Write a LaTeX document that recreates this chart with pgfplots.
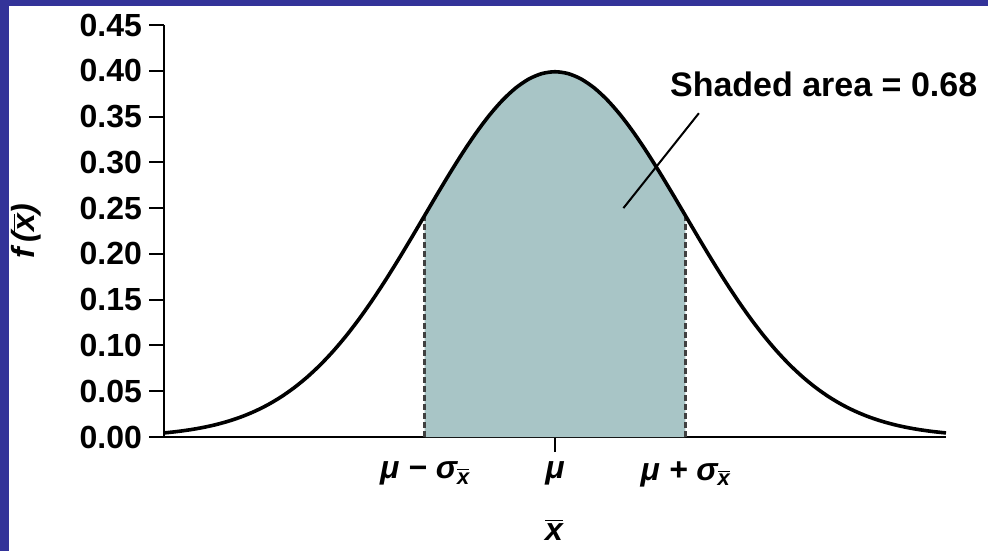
\documentclass[border=0pt]{standalone}
\usepackage{pgfplots}
\pgfplotsset{compat=1.18}
\usepackage{fontspec}
\setmainfont{Liberation Sans}
\definecolor{border}{RGB}{51,51,153}
\definecolor{shade}{RGB}{168,197,198}
\newcommand\xb{\ensuremath{\overline{\mbox{\itshape x}}}}
\newcommand\sub{\raisebox{-0.3ex}{\fontsize{11}{12}\selectfont\xb}}
\begin{document}
\begin{tikzpicture}
\fill[border] (0,0) rectangle (494pt,275.5pt);
\fill[white] (4.5pt,0) rectangle (494pt,272.5pt);
\useasboundingbox (0,0) rectangle (494pt,275.5pt);
\begin{axis}[
  at={(82pt,57pt)}, anchor=south west,
  scale only axis, width=391pt, height=206pt,
  xmin=-3, xmax=3, ymin=0, ymax=0.45,
  axis lines=left, axis line style={line width=1pt, -},
  ytick={0,0.05,...,0.45},
  yticklabel style={/pgf/number format/fixed, /pgf/number format/fixed zerofill, /pgf/number format/precision=2},
  /pgf/number format/assume math mode=true,
  tick label style={font=\fontsize{16}{19}\selectfont\bfseries},
  xticklabel style={yshift=-1.5pt},
  tick align=outside, major tick length=7.5pt,
  tick style={line width=1pt, black},
  xtick={0}, xticklabels={\itshape μ},
  extra x ticks={-1,1},
  extra x tick labels={{\itshape μ − σ\sub},{\itshape μ + σ\sub}},
  extra x tick style={tick style={draw=none}},
  clip=false,
]
\addplot[fill=shade, draw=none] coordinates {
(-1.0,0) (-1.0,0.24197) (-0.9,0.26609) (-0.8,0.28969) (-0.7,0.31225) (-0.6,0.33322) (-0.5,0.35207) (-0.4,0.36827) (-0.3,0.38139) (-0.2,0.39104) (-0.1,0.39695) (0.0,0.39894) (0.1,0.39695) (0.2,0.39104) (0.3,0.38139) (0.4,0.36827) (0.5,0.35207) (0.6,0.33322) (0.7,0.31225) (0.8,0.28969) (0.9,0.26609) (1.0,0.24197) (1.0,0)
} -- cycle;
\addplot[dash pattern=on 3pt off 1.5pt, line width=1.2pt, black!75] coordinates {(-1,0) (-1,0.24197)};
\addplot[dash pattern=on 3pt off 1.5pt, line width=1.2pt, black!75] coordinates {(1,0) (1,0.24197)};
\addplot[line width=1.8pt, black, smooth] coordinates {
(-3.0,0.00443) (-2.9,0.00595) (-2.8,0.00792) (-2.7,0.01042) (-2.6,0.01358) (-2.5,0.01753) (-2.4,0.02239) (-2.3,0.02833) (-2.2,0.03547) (-2.1,0.04398) (-2.0,0.05399) (-1.9,0.06562) (-1.8,0.07895) (-1.7,0.09405) (-1.6,0.11092) (-1.5,0.12952) (-1.4,0.14973) (-1.3,0.17137) (-1.2,0.19419) (-1.1,0.21785) (-1.0,0.24197) (-0.9,0.26609) (-0.8,0.28969) (-0.7,0.31225) (-0.6,0.33322) (-0.5,0.35207) (-0.4,0.36827) (-0.3,0.38139) (-0.2,0.39104) (-0.1,0.39695) (0.0,0.39894) (0.1,0.39695) (0.2,0.39104) (0.3,0.38139) (0.4,0.36827) (0.5,0.35207) (0.6,0.33322) (0.7,0.31225) (0.8,0.28969) (0.9,0.26609) (1.0,0.24197) (1.1,0.21785) (1.2,0.19419) (1.3,0.17137) (1.4,0.14973) (1.5,0.12952) (1.6,0.11092) (1.7,0.09405) (1.8,0.07895) (1.9,0.06562) (2.0,0.05399) (2.1,0.04398) (2.2,0.03547) (2.3,0.02833) (2.4,0.02239) (2.5,0.01753) (2.6,0.01358) (2.7,0.01042) (2.8,0.00792) (2.9,0.00595) (3.0,0.00443)
};
\draw[line width=1pt] (axis cs:1.104,0.3537) -- (axis cs:0.525,0.25);
\node[anchor=west, inner sep=0pt, font=\fontsize{17}{20}\selectfont\bfseries] at (axis cs:0.88,0.385) {Shaded area = 0.68};
\end{axis}
\node[rotate=90, font=\fontsize{16}{19}\selectfont\bfseries] at (13pt,160pt) {\itshape f\,(\xb)};
\node[font=\fontsize{16}{19}\selectfont\bfseries] at (277pt,10.5pt) {\xb};
\end{tikzpicture}
\end{document}
